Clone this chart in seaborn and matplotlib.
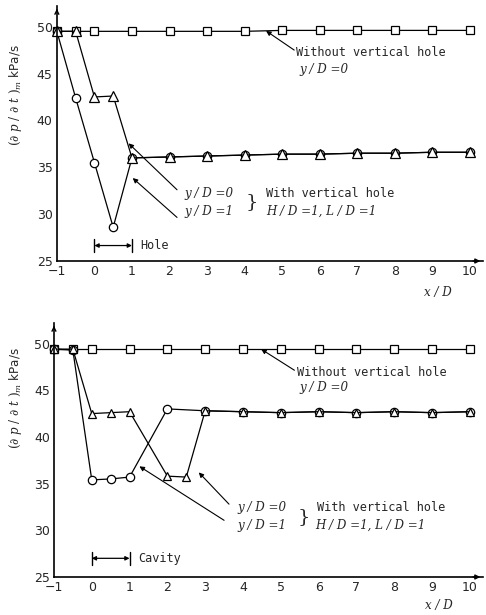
import numpy as np
import pandas as pd
import matplotlib
matplotlib.use("Agg")
import matplotlib.pyplot as plt
import seaborn as sns

# top panel (vertical hole)
x_sq = [-1, -0.5, 0, 1, 2, 3, 4, 5, 6, 7, 8, 9, 10]
top_sq = [49.5, 49.5, 49.5, 49.5, 49.5, 49.5, 49.5, 49.6, 49.6, 49.6, 49.6, 49.6, 49.6]
x_hole = [-1, -0.5, 0, 0.5, 1, 2, 3, 4, 5, 6, 7, 8, 9, 10]
top_tri = [49.5, 49.5, 42.5, 42.6, 36.0, 36.1, 36.2, 36.3, 36.4, 36.4, 36.5, 36.5, 36.6, 36.6]
top_cir = [49.5, 42.4, 35.5, 28.6, 36.0, 36.1, 36.2, 36.3, 36.4, 36.4, 36.5, 36.5, 36.6, 36.6]

# bottom panel (cavity)
bot_sq = [49.4, 49.4, 49.4, 49.4, 49.4, 49.4, 49.4, 49.4, 49.4, 49.4, 49.4, 49.4, 49.4]
x_tri2 = [-1, -0.5, 0, 0.5, 1, 2, 2.5, 3, 4, 5, 6, 7, 8, 9, 10]
bot_tri = [49.4, 49.4, 42.5, 42.6, 42.7, 35.8, 35.7, 42.8, 42.7, 42.6, 42.7, 42.6, 42.7, 42.6, 42.7]
x_cir2 = [-1, -0.5, 0, 0.5, 1, 2, 3, 4, 5, 6, 7, 8, 9, 10]
bot_cir = [49.4, 49.3, 35.4, 35.5, 35.7, 43.0, 42.8, 42.7, 42.6, 42.7, 42.6, 42.7, 42.6, 42.7]

xticks = [-1, 0, 1, 2, 3, 4, 5, 6, 7, 8, 9, 10]
yticks = [25, 30, 35, 40, 45, 50]

sns.set_style("white")
plt.rcParams['font.family'] = ['DejaVu Sans']
plt.rcParams['mathtext.fontset'] = 'dejavuserif'

fig = plt.figure(figsize=(4.86, 6.15), dpi=100)
ax1 = fig.add_axes([0.117, 0.5756, 0.877, 0.4146])
ax2 = fig.add_axes([0.111, 0.0618, 0.883, 0.413])

mono = dict(family='DejaVu Sans Mono', fontsize=8.6)
ital = dict(family='DejaVu Serif', style='italic', fontsize=8.6)
arr = dict(arrowstyle='-|>', color='black', lw=0.8, mutation_scale=7, shrinkA=0, shrinkB=0)


def draw_series(ax, xs, ys, marker, ms):
    sns.lineplot(x=xs, y=ys, ax=ax, color='black', lw=0.9, marker=marker, markersize=ms,
                 markerfacecolor='white', markeredgecolor='black', markeredgewidth=0.9,
                 sort=False, estimator=None, clip_on=False)


def setup(ax):
    ax.set_xlim(-1, 10.35)
    ax.set_ylim(25, 52.2)
    ax.set_xticks(xticks)
    ax.set_yticks(yticks)
    ax.tick_params(direction='in', length=3, width=0.8, labelsize=9, pad=3)
    for s in ['top', 'right']:
        ax.spines[s].set_visible(False)
    for s in ['left', 'bottom']:
        ax.spines[s].set_linewidth(1.2)
        ax.spines[s].set_color('black')
    ax.annotate('', xy=(1.0, 0), xytext=(0.97, 0), xycoords='axes fraction',
                arrowprops=dict(arrowstyle='-|>', color='black', lw=1, mutation_scale=7))
    ax.annotate('', xy=(0, 1.0), xytext=(0, 0.97), xycoords='axes fraction',
                arrowprops=dict(arrowstyle='->', color='black', lw=1, mutation_scale=7))


def bracket(ax, y, label):
    ax.plot([0, 0], [y - 0.7, y + 0.7], color='black', lw=1)
    ax.plot([1, 1], [y - 0.7, y + 0.7], color='black', lw=1)
    ax.annotate('', xy=(1, y), xytext=(0, y),
                arrowprops=dict(arrowstyle='<|-|>', color='black', lw=0.9, mutation_scale=6,
                                shrinkA=0, shrinkB=0))
    ax.text(1.22, y, label, va='center', ha='left', **mono)


brace = dict(va='center', ha='center', family='DejaVu Serif', fontsize=14, fontweight='light')

# ---- top
setup(ax1)
draw_series(ax1, x_sq, top_sq, 's', 6)
draw_series(ax1, x_hole, top_cir, 'o', 6)
draw_series(ax1, x_hole, top_tri, '^', 6.5)

ax1.text(5.37, 47.2, 'Without vertical hole', va='center', ha='left', **mono)
ax1.text(5.45, 45.4, 'y / D =0', va='center', ha='left', **ital)
ax1.annotate('', xy=(4.57, 49.55), xytext=(5.32, 47.5), arrowprops=arr)
ax1.text(2.4, 32.2, 'y / D =0', va='center', ha='left', **ital)
ax1.text(2.4, 30.3, 'y / D =1', va='center', ha='left', **ital)
ax1.text(4.2, 31.25, '}', **brace)
ax1.text(4.57, 32.2, 'With vertical hole', va='center', ha='left', **mono)
ax1.text(4.57, 30.3, 'H / D =1, L / D =1', va='center', ha='left', **ital)
ax1.annotate('', xy=(0.91, 37.55), xytext=(2.2, 32.6), arrowprops=arr)
ax1.annotate('', xy=(1.02, 33.85), xytext=(2.2, 29.65), arrowprops=arr)
bracket(ax1, 26.65, 'Hole')
ax1.text(9.14, 21.6, 'x / D', va='center', ha='center', clip_on=False, **ital)

# ---- bottom
setup(ax2)
draw_series(ax2, x_sq, bot_sq, 's', 6)
draw_series(ax2, x_cir2, bot_cir, 'o', 6)
draw_series(ax2, x_tri2, bot_tri, '^', 5.5)

ax2.text(5.44, 46.93, 'Without vertical hole', va='center', ha='left', **mono)
ax2.text(5.49, 45.3, 'y / D =0', va='center', ha='left', **ital)
ax2.annotate('', xy=(4.48, 49.4), xytext=(5.36, 47.14), arrowprops=arr)
ax2.text(3.84, 32.4, 'y / D =0', va='center', ha='left', **ital)
ax2.text(3.84, 30.5, 'y / D =1', va='center', ha='left', **ital)
ax2.text(5.62, 31.45, '}', **brace)
ax2.text(5.95, 32.4, 'With vertical hole', va='center', ha='left', **mono)
ax2.text(5.9, 30.5, 'H / D =1, L / D =1', va='center', ha='left', **ital)
ax2.annotate('', xy=(2.83, 36.2), xytext=(3.63, 32.8), arrowprops=arr)
ax2.annotate('', xy=(1.26, 36.85), xytext=(3.5, 31.07), arrowprops=arr)
bracket(ax2, 27.0, 'Cavity')
ax2.text(9.17, 21.95, 'x / D', va='center', ha='center', clip_on=False, **ital)

ylab = r'$(\partial\ p\ /\ \partial\ t\ )_m$ kPa/s'
fig.text(15 / 486, 1 - 95 / 615, ylab, rotation=90, va='center', ha='center', fontsize=8.6)
fig.text(15 / 486, 1 - 398 / 615, ylab, rotation=90, va='center', ha='center', fontsize=8.6)

fig.savefig('out.png', dpi=100)
